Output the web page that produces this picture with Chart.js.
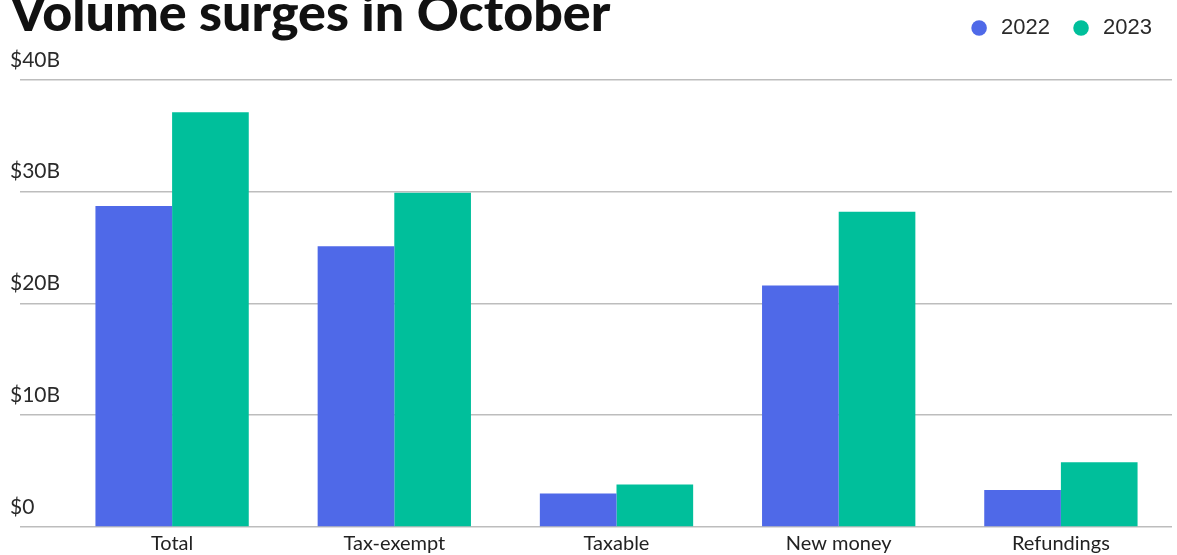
<!DOCTYPE html>
<html>
<head>
<meta charset="utf-8">
<script src="https://cdn.jsdelivr.net/npm/chart.js@4/dist/chart.umd.min.js"></script>
<style>
  html, body { margin: 0; padding: 0; background: #fff; overflow: hidden; }
  #wrap { position: relative; width: 1177px; height: 555px; }
  #title {
    position: absolute; left: 10px; top: -15px; margin: 0;
    font: 900 52px/52px Lato, "Noto Sans", sans-serif; color: #111; white-space: nowrap;
  }
  canvas { position: absolute; left: 0; top: 0; }
</style>
</head>
<body>
<div id="wrap">
  <canvas id="chart" width="1177" height="555"></canvas>
  <h1 id="title">Volume surges in October</h1>
</div>
<script>
const categories = ['Total', 'Tax-exempt', 'Taxable', 'New money', 'Refundings']
const values2022 = [28.7, 25.1, 3.0, 21.6, 3.3]
const values2023 = [37.1, 29.9, 3.8, 28.2, 5.8]
const seriesNames = ['2022', '2023']
const yTicks = [0, 10, 20, 30, 40]

const blue = '#4f69e8'
const green = '#00bf9b'
const gridColor = '#bdbdbd'

const chartEl = document.getElementById('chart')

const data = {
  labels: categories,
  datasets: [
    { label: seriesNames[0], data: values2022, backgroundColor: blue },
    { label: seriesNames[1], data: values2023, backgroundColor: green }
  ]
}

const config = {
  type: 'bar',
  data: data,
  options: {
    responsive: false,
    animation: false,
    layout: { padding: { left: 20, right: 5, top: -3, bottom: 0 } },
    datasets: { bar: { barPercentage: 1, categoryPercentage: 0.69 } },
    plugins: {
      tooltip: { enabled: false },
      legend: {
        position: 'top',
        align: 'end',
        labels: {
          usePointStyle: true,
          pointStyle: 'circle',
          boxWidth: 22,
          boxHeight: 11,
          padding: 20,
          color: '#2a2a2a',
          font: { family: '"Liberation Sans", Arial, sans-serif', size: 22 }
        }
      }
    },
    scales: {
      x: {
        grid: { display: false, drawTicks: false },
        border: { display: false },
        afterFit: function (scale) { scale.height = 28 },
        ticks: {
          padding: 5,
          color: '#222',
          font: { family: 'Lato, sans-serif', size: 20 }
        }
      },
      y: {
        min: 0,
        max: 42.75,
        border: { display: false },
        grid: { color: gridColor, lineWidth: 1.5, tickLength: 41, tickColor: gridColor },
        afterFit: function (scale) { scale.width = 41 },
        afterBuildTicks: function (scale) {
          scale.ticks = yTicks.map(v => ({ value: v }))
        },
        ticks: {
          mirror: true,
          padding: -51,
          labelOffset: -20,
          color: '#2a2a2a',
          font: { family: 'Lato, sans-serif', size: 21 },
          callback: v => '$' + v + (v === 0 ? '' : 'B')
        }
      }
    }
  }
}

new Chart(chartEl, config)
</script>
</body>
</html>
